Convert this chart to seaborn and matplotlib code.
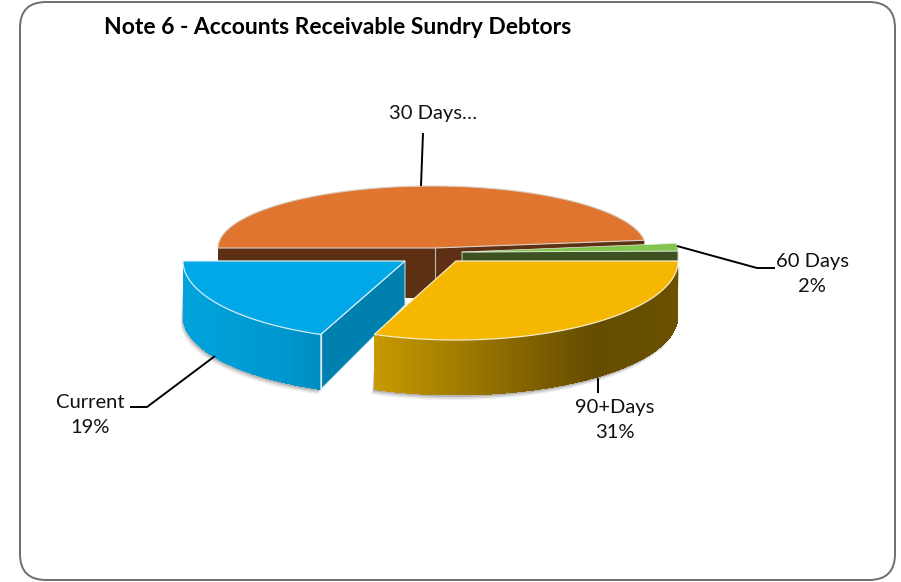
import numpy as np
import matplotlib
matplotlib.use("Agg")
import matplotlib.pyplot as plt
from matplotlib.colors import to_rgb
from matplotlib.patches import FancyBboxPatch
import seaborn as sns

# donnees du graphique
categories = ["Current", "30 Days", "60 Days", "90+Days"]
percentages = [19, 48, 2, 31]
labels_shown = ["Current\n19%", "30 Days…", "60 Days\n2%", "90+Days\n31%"]
title = "Note 6 - Accounts Receivable Sundry Debtors"

top_colors = ["#00A8E8", "#E07530", "#84C450", "#F5B700"]

sns.set_theme(style="white")
plt.rcParams["font.family"] = ["Lato", "DejaVu Sans"]

fig, ax = plt.subplots(figsize=(9.01, 5.82), dpi=100)
fig.subplots_adjust(0, 0, 1, 1)
ax.set_xlim(0, 901)
ax.set_ylim(582, 0)
ax.axis("off")

# cadre arrondi
ax.add_patch(FancyBboxPatch((20, 2), 875, 578, boxstyle="round,pad=0,rounding_size=26",
                            fc="white", ec="#6e6e6e", lw=1.4, zorder=0))


def rim(cx, cy, r, a0, a1, ry_back=61, ry_front=79, n=200):
    # bord de la part : l'avant de l'ellipse est plus haut (perspective)
    t = np.radians(np.linspace(a0, a1, n))
    s = np.sin(t)
    return cx + r * np.cos(t), cy - np.where(s > 0, ry_back, ry_front) * s


def wall_strips(x, y, depth, c_left, c_mid, c_right, z, mid=0.72):
    # paroi courbe en bandes pour faire le degrade
    x0, x1 = x.min(), x.max()
    c_left, c_mid, c_right = map(np.array, (c_left, c_mid, c_right))
    for i in range(len(x) - 1):
        u = ((x[i] + x[i + 1]) / 2 - x0) / (x1 - x0)
        if u < mid:
            c = c_left + (c_mid - c_left) * u / mid
        else:
            c = c_mid + (c_right - c_mid) * (u - mid) / (1 - mid)
        ax.fill([x[i], x[i + 1], x[i + 1], x[i]],
                [y[i], y[i + 1], y[i + 1] + depth, y[i] + depth],
                color=c, lw=0, antialiased=False, zorder=z)


def shadow(x, y, depth, z):
    # ombre grise sous la paroi
    for grow, alpha in [(5, 0.10), (3.5, 0.15), (2, 0.25)]:
        ax.fill(np.r_[x - grow / 2, (x + grow / 2)[::-1]],
                np.r_[y + depth + grow, y[::-1]],
                color="#555555", alpha=alpha, lw=0, zorder=z)


# angles calcules depuis les pourcentages, sens horaire
ends = 248.4 - np.cumsum(percentages) * 3.6
starts = np.r_[248.4, ends[:-1]]
angles = dict(zip(categories, zip(starts, ends)))

# ---- 30 Days (arriere)
a0, a1 = angles["30 Days"]
cx, cy = 435, 248
x, y = rim(432, cy, 214, a0, a1, ry_back=62)
lx, ly = x[0], y[0]
rx, ry = x[-1], y[-1]
ax.fill([lx, cx, cx, lx], [ly, cy, cy + 50, ly + 50], color="#5D3014", lw=0, zorder=2)
ax.fill([cx, rx, rx, cx], [cy, ry, ry + 50, cy + 50], color="#5D3014", lw=0, zorder=2)
ax.plot([cx, cx], [cy, cy + 50], color="#c9b8ac", lw=0.8, zorder=3)
ax.fill(np.r_[cx, x], np.r_[cy, y], color=top_colors[1], ec="#d9cfc8", lw=0.8, zorder=3)

# ---- 60 Days
a0, a1 = angles["60 Days"]
cx, cy, r = 456, 251, 222
x, y = rim(cx, cy, r, a0, a1)
ax.fill([cx + 6, x[-1], x[-1], cx + 6], [cy + 1, y[-1], y[-1] + 11, cy + 12],
        color="#3C5223", ec="#c8d4bc", lw=0.7, zorder=4)
ax.fill(np.r_[cx + 6, x], np.r_[cy + 1, y], color=top_colors[2], ec="#e4efd8", lw=0.5, zorder=4)

# ---- Current
a0, a1 = angles["Current"]
cx, cy = 405, 261
x, y = rim(401, cy, 218, a0, a1)
x, y = x[::-1], y[::-1]
shadow(x, y, 55, 5)
wall_strips(x, y, 55, to_rgb("#00A3DD"), to_rgb("#0097CF"), to_rgb("#008CC0"), 6)
ax.fill([cx, x[-1], x[-1], cx], [cy, y[-1], y[-1] + 55, cy + 44], color="#0080AE",
        ec="#cfe8f2", lw=0.7, zorder=6)
ax.plot([x[-1], x[-1]], [y[-1], y[-1] + 55], color="#d5edf6", lw=0.9, zorder=7)
ax.fill(np.r_[cx, x], np.r_[cy, y], color=top_colors[0], ec="#d5edf6", lw=0.9, zorder=7)

# ---- 90+Days
a0, a1 = angles["90+Days"]
cx, cy, r = 456, 261, 222
x, y = rim(cx, cy, r, a0, a1)
x, y = x[::-1], y[::-1]
shadow(x, y, 55, 8)
wall_strips(x, y, 55, to_rgb("#C79A00"), to_rgb("#654C00"), to_rgb("#6B5100"), 9)
ax.fill(np.r_[cx, x], np.r_[cy, y], color=top_colors[3], ec="#f6ecc8", lw=0.9, zorder=10)

# traits de rappel
leaders = [
    ([215, 147, 130], [356, 407, 407]),
    ([423, 421], [133, 186]),
    ([677, 757, 775], [246, 268, 268]),
    ([598, 598], [378, 393]),
]
for lx, ly in leaders:
    ax.plot(lx, ly, color="black", lw=1.4, zorder=1 if lx[0] == 598 else 11,
            solid_capstyle="butt")

# etiquettes
label_pos = [(90, 415), (433, 113), (812, 274), (615, 420)]
for (tx, ty), txt in zip(label_pos, labels_shown):
    ax.text(tx, ty, txt, ha="center", va="center", fontsize=14.5, color="#111111",
            linespacing=1.55, zorder=12)

ax.text(104, 27, title, ha="left", va="center", fontsize=16.5, fontweight="bold", color="black")

fig.savefig("out.png", dpi=100, facecolor="white")
